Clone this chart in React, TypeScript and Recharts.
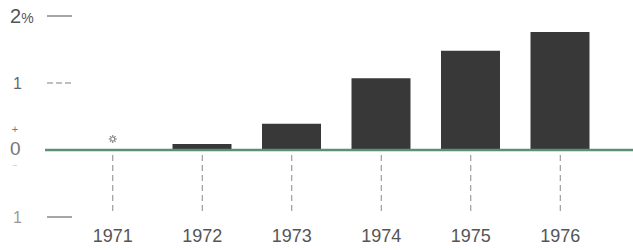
import React from 'react';
import { ComposedChart, Bar, Scatter, XAxis, YAxis, ReferenceLine } from 'recharts';

const years = ['1971', '1972', '1973', '1974', '1975', '1976'];
const values = [0, 0.09, 0.39, 1.07, 1.48, 1.76];
const markers = [0, null, null, null, null, null];
const leftTicks = [-1, 0, 1, 2];
const rightTicks = [-1, 1, 2];
const tickLabels: Record<string, string> = { '-1': '1', '0': '0', '1': '1', '2': '2' };

const data = years.map((y, i) => ({ year: y, value: values[i], marker: markers[i] }));

const GREY = '#555';

const LeftTick = (props: any) => {
  const { x, y, payload } = props;
  const v = payload.value;
  const lbl = tickLabels[String(v)];
  return (
    <g>
      {v !== 0 && (
        <line x1={x - 21} x2={x + 4} y1={y} y2={y} stroke={v === 1 ? '#aaa' : '#888'} strokeWidth={1.5}
          strokeDasharray={v === 1 ? '6 3' : undefined} />
      )}
      {v === 2 ? (
        <text x={x - 58} y={y + 7} fill={GREY} fontSize={20}>
          2<tspan fontSize={14}>%</tspan>
        </text>
      ) : v === 0 ? (
        <g>
          <text x={x - 53} y={y - 17} fill="#777" fontSize={11} textAnchor="middle">+</text>
          <text x={x - 58} y={y + 5} fill="#777" fontSize={19}>0</text>
          <text x={x - 53} y={y + 18} fill="#bbb" fontSize={8} textAnchor="middle">−</text>
        </g>
      ) : (
        <text x={x - 55} y={y + 6} fill={v === -1 ? '#999' : '#666'} fontSize={16}>{lbl}</text>
      )}
    </g>
  );
};

const RightTick = (props: any) => {
  const { x, y, payload } = props;
  const v = payload.value;
  return (
    <line x1={x + 1} x2={x + 27} y1={y} y2={y} stroke="#999" strokeWidth={1.5}
      strokeDasharray={v === 1 ? '8 3' : undefined} />
  );
};

const BottomTick = (props: any) => {
  const { x, y, payload } = props;
  return (
    <g>
      <line x1={x} x2={x} y1={y - 62} y2={y - 2} stroke="#888" strokeWidth={1} strokeDasharray="6 4" />
      <text x={x} y={y + 25} fill={GREY} fontSize={18} textAnchor="middle">{payload.value}</text>
    </g>
  );
};

const ZeroLine = (props: any) => {
  const { x1, x2, y1 } = props;
  return <line x1={x1 - 23} x2={x2 + 28} y1={y1} y2={y1} stroke="#5e8f74" strokeWidth={2.5} />;
};

const StarShape = (props: any) => {
  const { cx, cy } = props;
  if (cx == null || cy == null) return null;
  const sy = cy - 11;
  const r = 4;
  const lines = [0, 45, 90, 135].map((a) => {
    const rad = (a * Math.PI) / 180;
    return (
      <line key={a} x1={cx - r * Math.cos(rad)} y1={sy - r * Math.sin(rad)} x2={cx + r * Math.cos(rad)}
        y2={sy + r * Math.sin(rad)} stroke="#888" strokeWidth={1.2} />
    );
  });
  return (
    <g>
      {lines}
      <circle cx={cx} cy={sy} r={2} fill="#fff" stroke="#888" strokeWidth={1} />
    </g>
  );
};

export default function App() {
  return (
    <div style={{ position: 'absolute', left: 0, top: 0, width: 633, height: 250, background: '#fff', fontFamily: '"Liberation Sans", Arial, sans-serif' }}>
      <ComposedChart width={633} height={250} data={data} margin={{ top: 16, right: 0, bottom: 0, left: 0 }}>
        <XAxis dataKey="year" axisLine={false} tickLine={false} tickSize={0} tickMargin={0} height={33} tick={<BottomTick />} interval={0} />
        <YAxis yAxisId="left" orientation="left" width={68} domain={[-1, 2]} ticks={leftTicks} axisLine={false} tickLine={false} tickSize={0} tickMargin={0} tick={<LeftTick />} interval={0} />
        <YAxis yAxisId="right" orientation="right" width={28} domain={[-1, 2]} ticks={rightTicks} axisLine={false} tickLine={false} tickSize={0} tickMargin={0} tick={<RightTick />} interval={0} />
        <ReferenceLine yAxisId="left" y={0} shape={<ZeroLine />} />
        <Bar yAxisId="left" dataKey="value" fill="#383838" barSize={59} isAnimationActive={false} />
        <Scatter yAxisId="left" dataKey="marker" shape={<StarShape />} isAnimationActive={false} />
      </ComposedChart>
    </div>
  );
}
